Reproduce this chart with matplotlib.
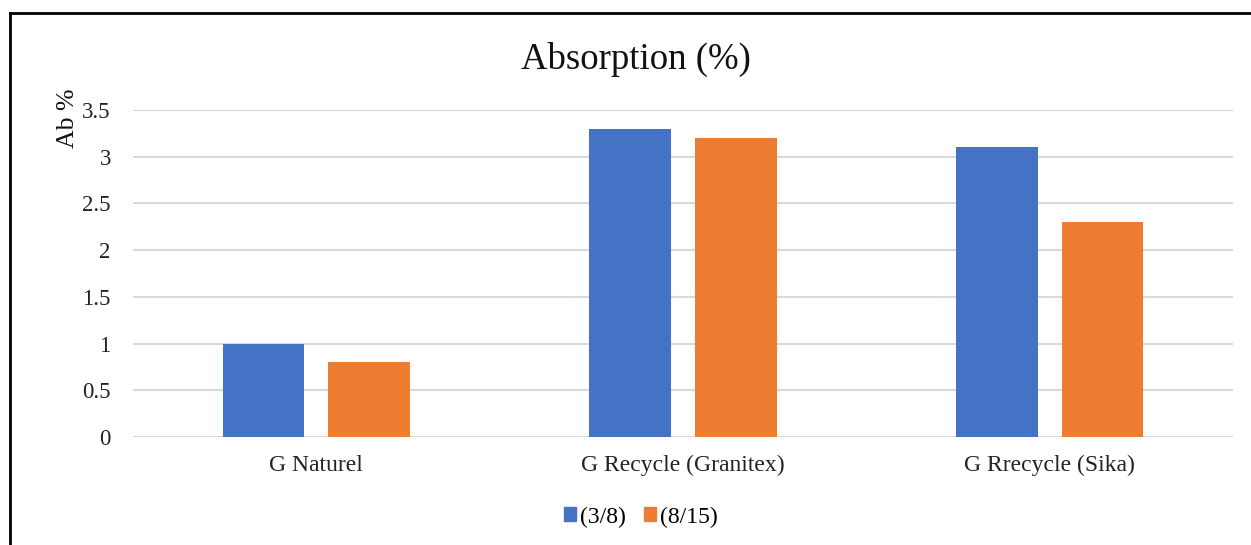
import numpy as np
import matplotlib.pyplot as plt
from matplotlib.lines import Line2D
from matplotlib.patches import Patch

plt.rcParams['font.family'] = ['Liberation Serif', 'DejaVu Serif']

categories = ['G Naturel', 'G Recycle (Granitex)', 'G Rrecycle (Sika)']
series_names = ['(3/8)', '(8/15)']
vals_38 = [1.0, 3.3, 3.1]
vals_815 = [0.8, 3.2, 2.3]
yticks = [0, 0.5, 1, 1.5, 2, 2.5, 3, 3.5]
ytick_labels = ['0', '0.5', '1', '1.5', '2', '2.5', '3', '3.5']

BLUE = '#4472c4'
ORANGE = '#ed7d31'

fig = plt.figure(figsize=(12.51, 5.45), dpi=100)
W, H = 1251, 545
ax = fig.add_axes([133 / W, 1 - 437 / H, 1100 / W, (437 - 110) / H])

x = np.arange(len(categories))
width = 0.223
off = 0.144
ax.bar(x - off, vals_38, width, color=BLUE, zorder=3)
ax.bar(x + off, vals_815, width, color=ORANGE, zorder=3)

ax.set_xlim(-0.5, 2.5)
ax.set_ylim(0, 3.5)
ax.set_yticks(yticks)
ax.set_yticklabels(ytick_labels)
ax.set_xticks(x)
ax.set_xticklabels(categories)
ax.tick_params(axis='both', length=0, colors='#222222')
ax.tick_params(axis='y', pad=16, labelsize=16.5)
ax.tick_params(axis='x', pad=13, labelsize=17)
ax.grid(axis='y', color='#d9d9d9', linewidth=1.5, zorder=0)
for s in ax.spines.values():
    s.set_visible(False)
ax.axhline(0, color='#d9d9d9', linewidth=1.5, zorder=1)

fig.text(636 / W, 1 - 59 / H, 'Absorption (%)', ha='center', va='center',
         fontsize=26.5, color='#111111')
fig.text(68 / W, 1 - 118 / H, 'Ab %', ha='center', va='center',
         rotation=90, fontsize=18.5, color='#111111')

handles = [Patch(color=BLUE), Patch(color=ORANGE)]
fig.legend(handles, series_names, loc='center', bbox_to_anchor=(641 / W, 1 - 517 / H),
           ncol=2, frameon=False, fontsize=17, handlelength=0.5, handleheight=0.5,
           handletextpad=0.2, columnspacing=0.75)

# outer frame (top and left edges)
fig.add_artist(Line2D([10 / W, 1.0], [1 - 13 / H, 1 - 13 / H], color='black', linewidth=2))
fig.add_artist(Line2D([10 / W, 10 / W], [1 - 13 / H, 0], color='black', linewidth=2))

fig.savefig('out.png', dpi=100)
